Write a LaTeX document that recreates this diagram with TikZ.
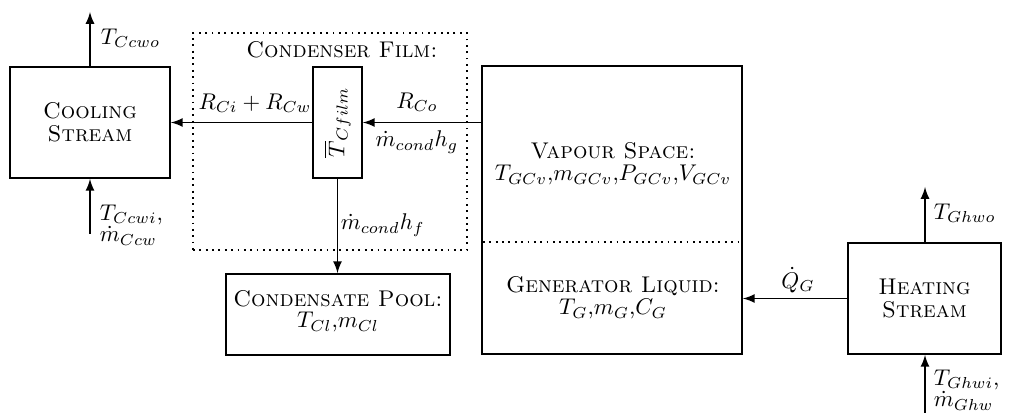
\documentclass[tikz,border=0pt]{standalone}
\usetikzlibrary{arrows}
\newcommand\pxu{0.44pt}
\begin{document}
\begin{tikzpicture}[x=\pxu,y=-\pxu,
  line width=0.8pt,
  box/.style={draw,rectangle,inner sep=0pt,align=center},
  zone/.style={draw,dotted,rectangle,inner sep=0pt},
  flow/.style={-latex},
  lbl/.style={inner sep=0pt}]
\useasboundingbox (0,0) rectangle (1028,413);

% condenser film zone (dotted frame)
\node[zone,minimum width=274*\pxu,minimum height=217*\pxu] (filmzone) at (330,141.5) {};
\node[lbl] (filmtitle) at (342,50) {\textsc{Condenser Film:}};

% main blocks
\node[box,minimum width=160*\pxu,minimum height=111*\pxu,
  font=\fontsize{10}{10.2}\selectfont] (cool) at (90,122.5)
  {\textsc{Cooling}\\\textsc{Stream}};
\node[box,minimum width=49*\pxu,minimum height=111*\pxu] (film) at (337.5,122.5)
  {\rotatebox{90}{$\overline{T}_{Cfilm}$}};
\node[box,minimum width=224*\pxu,minimum height=81*\pxu] (pool) at (338,314.5) {};
\node[lbl,align=center,font=\fontsize{10}{9.5}\selectfont] (pooltxt) at (338,311)
  {\textsc{Condensate Pool:}\\$T_{Cl}$,$m_{Cl}$};
\node[box,minimum width=260*\pxu,minimum height=288*\pxu] (gen) at (612,210) {};
\node[lbl,align=center,font=\fontsize{10}{9.8}\selectfont] (vaptxt) at (613,164)
  {\textsc{Vapour Space:}\\$T_{GCv}$,$m_{GCv}$,$P_{GCv}$,$V_{GCv}$};
\node[lbl,align=center,font=\fontsize{10}{9.8}\selectfont] (liqtxt) at (613,298)
  {\textsc{Generator Liquid:}\\$T_{G}$,$m_{G}$,$C_{G}$};
\node[box,minimum width=153*\pxu,minimum height=111*\pxu,
  font=\fontsize{10}{9.8}\selectfont] (heat) at (924.5,298.5)
  {\textsc{Heating}\\\textsc{Stream}};

% vapour / liquid interface
\coordinate (ifl) at (483,242);
\coordinate (ifr) at (741,242);
\draw[dotted] (ifl) -- (ifr);

% free ends of the stream connectors
\coordinate (coolout) at (90,12);
\coordinate (coolin) at (90,234);
\coordinate (heatout) at (925,187);
\coordinate (heatin) at (925,413);

% connectors
\draw[flow] (cool.north) -- (coolout);
\draw[flow] (coolin) -- (cool.south);
\draw[flow] (film.west) -- (cool.east);
\draw[flow] (gen.west |- film.east) -- (film.east);
\draw[flow] (film.south) -- (film.south |- pool.north);
\draw[flow] (heat.west) -- (gen.east |- heat.west);
\draw[flow] (heat.north -| heatout) -- (heatout);
\draw[flow] (heatin) -- (heat.south -| heatin);

% connector labels
\node[lbl,anchor=west] (lcoolout) at (100,38) {$T_{Ccwo}$};
\node[lbl,anchor=west,align=left,font=\fontsize{10}{8.6}\selectfont] (lcoolin) at (99,225)
  {$T_{Ccwi}$,\\$\dot m_{Ccw}$};
\node[lbl] (lrci) at (255,103) {$R_{Ci}+R_{Cw}$};
\node[lbl] (lrco) at (417,102) {$R_{Co}$};
\node[lbl] (lhg) at (417,142) {$\dot m_{cond}h_g$};
\node[lbl,anchor=west] (lhf) at (340,225) {$\dot m_{cond}h_f$};
\node[lbl] (lqg) at (798,280) {$\dot Q_G$};
\node[lbl,anchor=west] (lheatout) at (933,213) {$T_{Ghwo}$};
\node[lbl,anchor=west,align=left,font=\fontsize{10}{8.6}\selectfont] (lheatin) at (933,390)
  {$T_{Ghwi}$,\\$\dot m_{Ghw}$};
\end{tikzpicture}
\end{document}
